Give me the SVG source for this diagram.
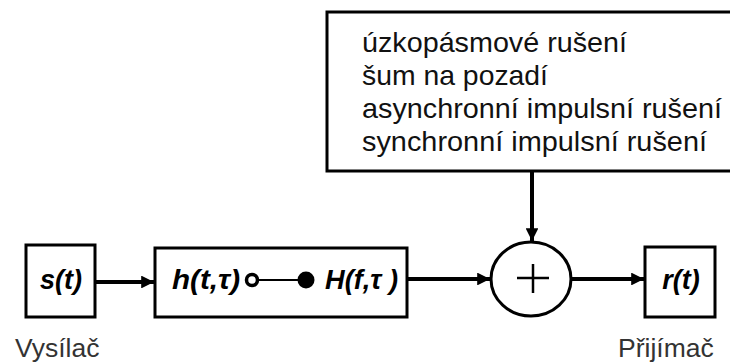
<svg xmlns="http://www.w3.org/2000/svg" width="730" height="363" viewBox="0 0 730 363">
<defs>
<style>
.box{fill:#fff;stroke:#000;stroke-width:3}
.conn{stroke:#000;stroke-width:4;fill:none}
.sym{font-family:"Liberation Sans",Arial,sans-serif;font-weight:bold;font-style:italic;font-size:27px;fill:#000}
.lbl{font-family:"Liberation Sans",Arial,sans-serif;font-size:26.5px;fill:#333}
.noise{font-family:"Liberation Sans",Arial,sans-serif;font-size:28px;fill:#111}
</style>
<marker id="ah" viewBox="0 0 10 10" refX="10" refY="5" markerWidth="3.2" markerHeight="3.2" orient="auto" markerUnits="strokeWidth">
<path d="M0,0 L10,5 L0,10 Z" fill="#000"/>
</marker>
</defs>
<rect width="730" height="363" fill="#fff"/>
<g id="noise">
<rect class="box" x="327" y="12" width="406" height="159"/>
<text class="noise" x="362" y="52" textLength="265" lengthAdjust="spacingAndGlyphs">úzkopásmové rušení</text>
<text class="noise" x="362" y="85" textLength="186" lengthAdjust="spacingAndGlyphs">šum na pozadí</text>
<text class="noise" x="362" y="118" textLength="360" lengthAdjust="spacingAndGlyphs">asynchronní impulsní rušení</text>
<text class="noise" x="362" y="151" textLength="345" lengthAdjust="spacingAndGlyphs">synchronní impulsní rušení</text>
</g>
<g id="transmitter">
<rect class="box" x="26" y="245" width="69" height="72"/>
<text class="sym" x="61" y="289" text-anchor="middle">s(t)</text>
<text class="lbl" x="15" y="357">Vysílač</text>
</g>
<g id="channel">
<rect class="box" x="155" y="248" width="252" height="69"/>
<text class="sym" x="172" y="289" textLength="68" lengthAdjust="spacingAndGlyphs">h(t,τ)</text>
<line x1="258" y1="280" x2="300" y2="280" stroke="#000" stroke-width="2"/>
<circle cx="252" cy="280" r="5.5" fill="#fff" stroke="#000" stroke-width="3.5"/>
<circle cx="306" cy="280" r="8.5" fill="#000"/>
<text class="sym" x="325" y="289" textLength="73" lengthAdjust="spacingAndGlyphs">H(f,τ )</text>
</g>
<g id="sum">
<ellipse cx="531" cy="279" rx="40" ry="37" fill="#fff" stroke="#000" stroke-width="3"/>
<line x1="517" y1="278" x2="549" y2="278" stroke="#000" stroke-width="2.5"/>
<line x1="533" y1="264" x2="533" y2="293" stroke="#000" stroke-width="2.5"/>
</g>
<g id="receiver">
<rect class="box" x="645" y="247" width="70" height="70"/>
<text class="sym" x="681" y="289" text-anchor="middle">r(t)</text>
<text class="lbl" x="618" y="357">Přijímač</text>
</g>
<g id="connectors">
<line class="conn" x1="96" y1="282" x2="154" y2="282" marker-end="url(#ah)"/>
<line class="conn" x1="408" y1="279" x2="490" y2="279" marker-end="url(#ah)"/>
<line class="conn" x1="572" y1="279" x2="644" y2="279" marker-end="url(#ah)"/>
<line class="conn" x1="532" y1="172" x2="532" y2="241" marker-end="url(#ah)"/>
</g>
</svg>
